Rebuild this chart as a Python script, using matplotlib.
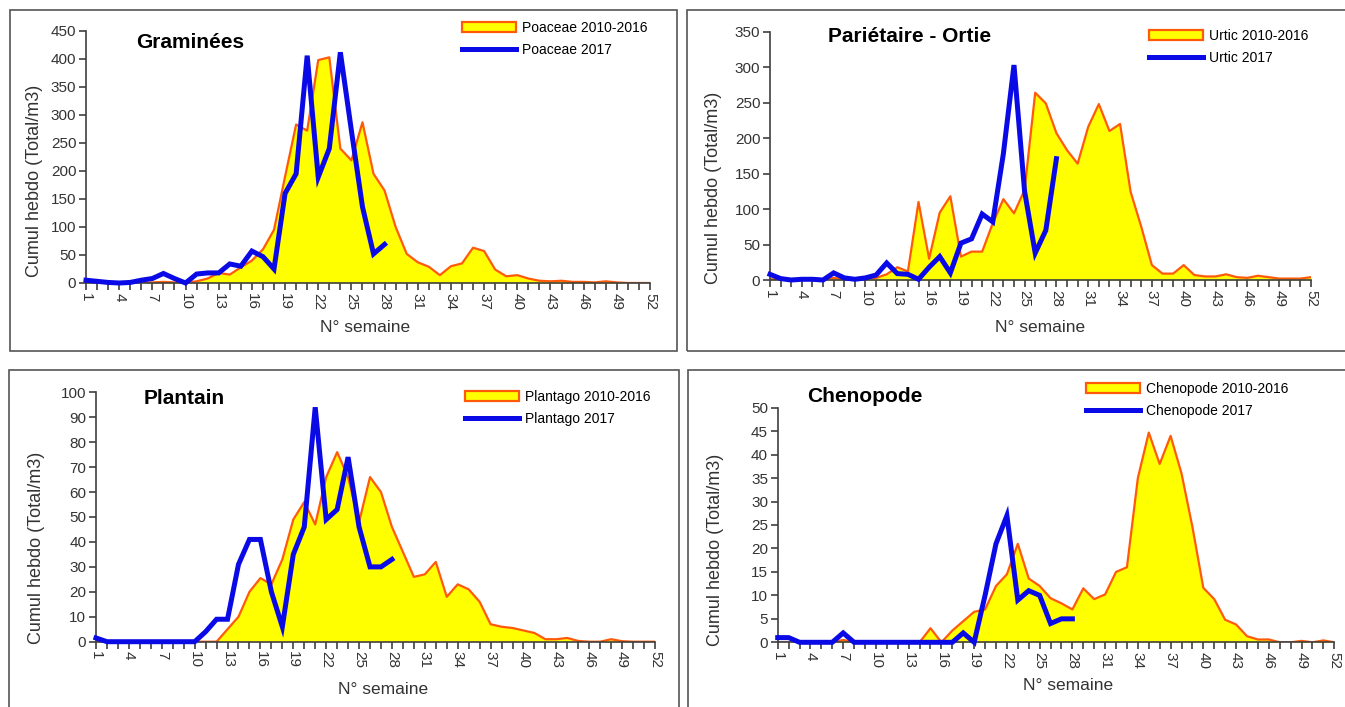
import numpy as np
import matplotlib

matplotlib.use("Agg")
import matplotlib.pyplot as plt
from matplotlib.patches import Patch, Rectangle
from matplotlib.lines import Line2D

plt.rcParams["font.family"] = ["Liberation Sans", "DejaVu Sans"]

weeks = np.arange(1, 53)

# Graminées
poaceae_ref = [0, 0, 0, 0, 0, 0, 1, 2, 1, 1, 3, 8, 18, 15, 28, 40, 60, 95, 190, 283,
               272, 398, 403, 240, 219, 287, 195, 165, 100, 52, 37, 29, 14, 30, 35, 63,
               57, 24, 12, 14, 8, 4, 3, 4, 2, 2, 1, 3, 1, 0, 0, 0]
poaceae_2017 = [5, 3, 1, 0, 1, 5, 8, 17, 8, 0, 16, 18, 18, 34, 30, 57, 47, 25, 160, 195,
                406, 189, 240, 412, 272, 136, 52, 69]

# Pariétaire - Ortie
urtic_ref = [1, 1, 1, 1, 2, 1, 3, 1, 1, 2, 3, 8, 18, 12, 110, 30, 95, 118, 33, 40,
             40, 80, 114, 94, 127, 264, 249, 207, 183, 164, 216, 248, 210, 220, 124, 75,
             21, 9, 9, 21, 7, 5, 5, 8, 4, 3, 6, 4, 2, 2, 2, 4]
urtic_2017 = [8, 2, 0, 1, 1, 0, 10, 3, 1, 3, 7, 24, 9, 8, 1, 18, 33, 10, 52, 58,
              93, 82, 178, 303, 125, 38, 70, 171]

# Plantain
plantago_ref = [0, 0, 0, 0, 0, 0, 0, 0, 0, 0, 0, 0, 5, 10, 20, 25.5, 23, 33, 49, 56,
                47, 66, 76, 66, 48, 66, 60, 46, 36, 26, 27, 32, 18, 23, 21, 16,
                7, 6, 5.5, 4.5, 3.5, 1, 1, 1.5, 0.3, 0, 0, 1, 0.2, 0, 0, 0]
plantago_2017 = [1.5, 0, 0, 0, 0, 0, 0, 0, 0, 0, 4, 9, 9, 31, 41, 41, 20, 6, 35, 46,
                 94, 49, 53, 74, 46, 30, 30, 33]

# Chenopode
cheno_ref = [0, 0, 0, 0, 0, 0, 0.5, 0, 0, 0, 0, 0, 0, 0, 3, 0, 2.5, 4.5, 6.5, 7,
             12, 14.5, 21, 13.6, 12, 9.4, 8.3, 7, 11.5, 9.2, 10.2, 15, 16, 35, 44.7, 38,
             44, 36, 24.6, 11.6, 9.2, 4.8, 3.8, 1.3, 0.6, 0.6, 0, 0, 0.3, 0, 0.4, 0]
cheno_2017 = [1, 1, 0, 0, 0, 0, 2, 0, 0, 0, 0, 0, 0, 0, 0, 0, 0, 2, 0, 10,
              21, 27, 9, 11, 10, 4, 5, 5]

W, H = 1345, 707
YELLOW, ORANGE, BLUE, AXC = "#ffff00", "#ff5a0a", "#0a0ae6", "#404040"


def fx(px):
    return px / W


def fy(py):
    return 1 - py / H


fig = plt.figure(figsize=(W / 100, H / 100), dpi=100)

# panel frames
for x0, y0, x1, y1 in [(10, 10, 677, 351), (687, 10, 1350, 351),
                       (9, 370, 679, 712), (688, 370, 1350, 712)]:
    fig.patches.append(Rectangle((fx(x0), fy(y1)), fx(x1 - x0), (y1 - y0) / H,
                                 transform=fig.transFigure, fill=False,
                                 edgecolor="#555555", lw=1.2))

panels = [
    dict(box=(86, 650, 31, 283), ymax=450, ystep=50, ref=poaceae_ref, cur=poaceae_2017,
         name="Poaceae", title="Graminées", tpos=(190, 42), ylab=(35, 181), xlab=(365, 327),
         leg=(462, 21)),
    dict(box=(770, 1311, 31.7, 280), ymax=350, ystep=50, ref=urtic_ref, cur=urtic_2017,
         name="Urtic", title="Pariétaire - Ortie", tpos=(910, 37), ylab=(713, 188), xlab=(1040, 327),
         leg=(1149, 29)),
    dict(box=(96, 655, 392.3, 641.7), ymax=100, ystep=10, ref=plantago_ref, cur=plantago_2017,
         name="Plantago", title="Plantain", tpos=(184, 398), ylab=(37, 548), xlab=(383, 690),
         leg=(465, 390)),
    dict(box=(777.7, 1334.3, 407.7, 642.3), ymax=50, ystep=5, ref=cheno_ref, cur=cheno_2017,
         name="Chenopode", title="Chenopode", tpos=(865, 397), ylab=(715, 550), xlab=(1068, 685),
         leg=(1086, 382)),
]

for p in panels:
    x0, x1, ytop, ybot = p["box"]
    ax = fig.add_axes([fx(x0), fy(ybot), fx(x1 - x0), (ybot - ytop) / H])
    ax.fill_between(weeks, p["ref"], color=YELLOW, lw=0, zorder=1)
    ax.plot(weeks, p["ref"], color=ORANGE, lw=1.6, zorder=2)
    ax.plot(weeks[:len(p["cur"])], p["cur"], color=BLUE, lw=3.6, zorder=3,
            solid_joinstyle="miter", clip_on=False)

    ax.set_xlim(1, 52)
    ax.set_ylim(0, p["ymax"])
    ax.set_xticks(weeks, minor=True)
    ax.set_xticks(np.arange(1, 53, 3))
    ax.set_xticklabels([str(w) for w in range(1, 53, 3)], rotation=270)
    ax.set_yticks(np.arange(0, p["ymax"] + 1, p["ystep"]))
    ax.tick_params(axis="both", which="both", direction="out", colors=AXC,
                   labelsize=11, labelcolor="#333333", width=1.2)
    ax.tick_params(axis="x", which="both", length=5, pad=2)
    ax.tick_params(axis="y", length=5, pad=2)
    ax.spines[["top", "right"]].set_visible(False)
    for s in ("left", "bottom"):
        ax.spines[s].set_color(AXC)
        ax.spines[s].set_linewidth(1.2)
    ax.patch.set_alpha(0)

    fig.text(fx(p["tpos"][0]), fy(p["tpos"][1]), p["title"], ha="center", va="center",
             fontsize=15, fontweight="bold")
    fig.text(fx(p["ylab"][0]), fy(p["ylab"][1]), "Cumul hebdo (Total/m3)", rotation=90,
             ha="center", va="center", fontsize=13, color="#333333")
    fig.text(fx(p["xlab"][0]), fy(p["xlab"][1]), "N° semaine", ha="center", va="center",
             fontsize=12.5, color="#333333")

    handles = [Patch(facecolor=YELLOW, edgecolor=ORANGE, lw=1.6),
               Line2D([], [], color=BLUE, lw=3.6)]
    labels = [p["name"] + " 2010-2016", p["name"] + " 2017"]
    fig.legend(handles, labels, loc="upper left",
               bbox_to_anchor=(fx(p["leg"][0]), fy(p["leg"][1])),
               bbox_transform=fig.transFigure, frameon=False, fontsize=10,
               handlelength=3.9, handleheight=0.7, handletextpad=0.4,
               labelspacing=0.55, borderpad=0, borderaxespad=0)

fig.savefig("out.png", dpi=100)
